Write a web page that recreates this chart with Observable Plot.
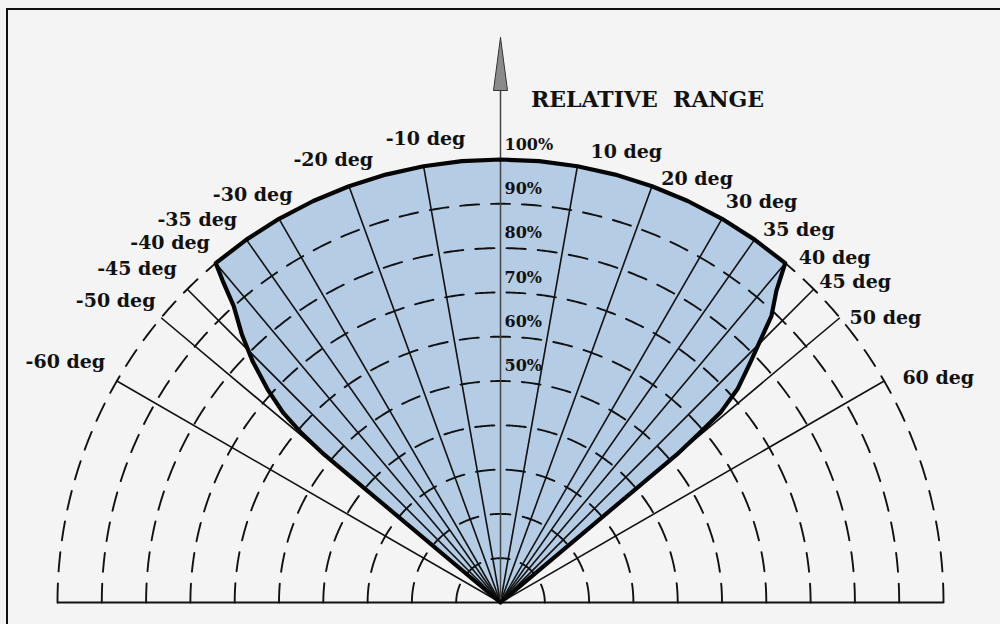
<!DOCTYPE html>
<html>
<head>
<meta charset="utf-8">
<script src="https://cdn.jsdelivr.net/npm/d3@7"></script>
<script src="https://cdn.jsdelivr.net/npm/@observablehq/plot@0.6"></script>
<style>
  html, body { margin: 0; padding: 0; background: #f4f4f4; overflow: hidden; }
  #wrap { position: relative; width: 1000px; height: 624px; overflow: hidden; }
  #border { position: absolute; left: 6px; top: 8px; width: 1100px; height: 700px;
            border-left: 2px solid #111; border-top: 2px solid #111; }
  #wrap svg { position: absolute; left: 0; top: 0; }
</style>
</head>
<body>
<div id="wrap"><div id="border"></div></div>
<script>
// ---------------- data ----------------
const title = "RELATIVE RANGE";
const rayAngles = [-60, -50, -45, -40, -35, -30, -20, -10, 0, 10, 20, 30, 35, 40, 45, 50, 60];
const rayLabels = ["-60 deg", "-50 deg", "-45 deg", "-40 deg", "-35 deg", "-30 deg", "-20 deg", "-10 deg", "",
                   "10 deg", "20 deg", "30 deg", "35 deg", "40 deg", "45 deg", "50 deg", "60 deg"];
const rangeRings = [10, 20, 30, 40, 50, 60, 70, 80, 90, 100];
const rangeLabelValues = [50, 60, 70, 80, 90, 100];
const rangeLabels = ["50%", "60%", "70%", "80%", "90%", "100%"];
// detection region outline (angle in deg, relative range in %)
const regionAngle = [-50, -50, -49.6, -48.9, -47.6, -45.8, -44, -42, -40.8,
                     -40, -35, -30, -25, -20, -15, -10, -5, 0, 5, 10, 15, 20, 25, 30, 35, 40,
                     41.5, 43.4, 44.7, 46.2, 48, 49.2, 49.6, 50, 50];
const regionRange = [0, 52, 59, 65, 71, 78, 84, 90, 96,
                     100, 100, 100, 100, 100, 100, 100, 100, 100, 100, 100, 100, 100, 100, 100, 100, 100,
                     94, 89, 83.5, 78, 72, 65.6, 59, 52, 0];

// ---------------- layout ----------------
const W = 1000, H = 624;
const CX = 500, CY = 602, R = 443;          // origin (px) and radius of 100 % (px)
const k = 100 / R;                           // % units per pixel
const deg = Math.PI / 180;
const px = (a, r) => r * Math.sin(a * deg);
const py = (a, r) => r * Math.cos(a * deg);
// label placement (polar: angle, radius %) for ray labels
const labelAngle = [-61.1, -51.9, -47.5, -42.6, -38.4, -31.3, -20.7, -9.2, 0,
                    15.6, 24.9, 33.1, 38.7, 44.1, 47.9, 53.5, 62.8];
const labelRadius = [112.2, 110.4, 111.3, 110.2, 110.2, 107.7, 106.8, 105.9, 0,
                     105.6, 105.4, 107.9, 107.7, 108.4, 107.9, 108.1, 111.1];
const ink = "#111";
const serif = "DejaVu Serif";

const region = regionAngle.map((a, i) => ({x: px(a, regionRange[i]), y: py(a, regionRange[i])}));
const circleSteps = d3.range(-90, 90.001, 0.5);

function ringMark(r) {
  const L = Math.PI * R * r / 100;
  const dash = 19, gap = 12;
  const n = Math.max(2, Math.round((L + gap) / (dash + gap)));
  const s = L / (n * dash + (n - 1) * gap);
  return Plot.line(circleSteps, {
    x: a => px(a, r), y: a => py(a, r),
    stroke: ink, strokeWidth: 1.9, strokeDasharray: `${dash * s},${gap * s}`
  });
}

const rays = rayAngles.filter(a => a !== 0);
const labelIdx = rayAngles.map((a, i) => i).filter(i => rayLabels[i] !== "");

const arrowTip = (CY - 37) * k, arrowBase = (CY - 90) * k, arrowHalf = 7 * k;

const chart = Plot.plot({
  width: W, height: H, margin: 0,
  x: {domain: [-CX * k, (W - CX) * k], axis: null},
  y: {domain: [-(H - CY) * k, CY * k], axis: null},
  style: {background: "transparent", overflow: "visible"},
  marks: [
    // filled region
    Plot.line(region, {x: "x", y: "y", fill: "#b5cce5", stroke: "none"}),
    // dashed range rings
    ...rangeRings.map(ringMark),
    // baseline
    Plot.ruleY([0], {x1: -100, x2: 100, stroke: ink, strokeWidth: 1.9}),
    // rays
    Plot.link(rays, {x1: 0, y1: 0, x2: a => px(a, 100), y2: a => py(a, 100), stroke: ink, strokeWidth: 1.6}),
    // vertical axis
    Plot.ruleX([0], {y1: 0, y2: arrowBase, stroke: "#444", strokeWidth: 1.5}),
    Plot.line([[0, arrowTip], [-arrowHalf, arrowBase], [arrowHalf, arrowBase], [0, arrowTip]],
              {fill: "#8a8a8a", stroke: "#333", strokeWidth: 1}),
    // region outline
    Plot.line(region, {x: "x", y: "y", stroke: "#050505", strokeWidth: 4.2, strokeLinejoin: "round"}),
    // range labels
    Plot.text(rangeLabelValues, {x: 4 * k, y: d => d, dy: -15, text: (d, i) => rangeLabels[i],
      textAnchor: "start", fontSize: 16, fontWeight: "bold", fontFamily: serif, fill: ink}),
    // ray labels
    Plot.text(labelIdx, {x: i => px(labelAngle[i], labelRadius[i]), y: i => py(labelAngle[i], labelRadius[i]),
      text: i => rayLabels[i], textAnchor: "middle", fontSize: 19, fontWeight: "bold", fontFamily: serif, fill: ink}),
    // title
    Plot.text([title], {x: (647 - CX) * k, y: (CY - 99) * k, text: d => d.replace(" ", "\u00a0\u00a0"),
      textAnchor: "middle", fontSize: 22, fontWeight: "bold", fontFamily: serif, fill: ink})
  ]
});
document.getElementById("wrap").appendChild(chart);
</script>
</body>
</html>
